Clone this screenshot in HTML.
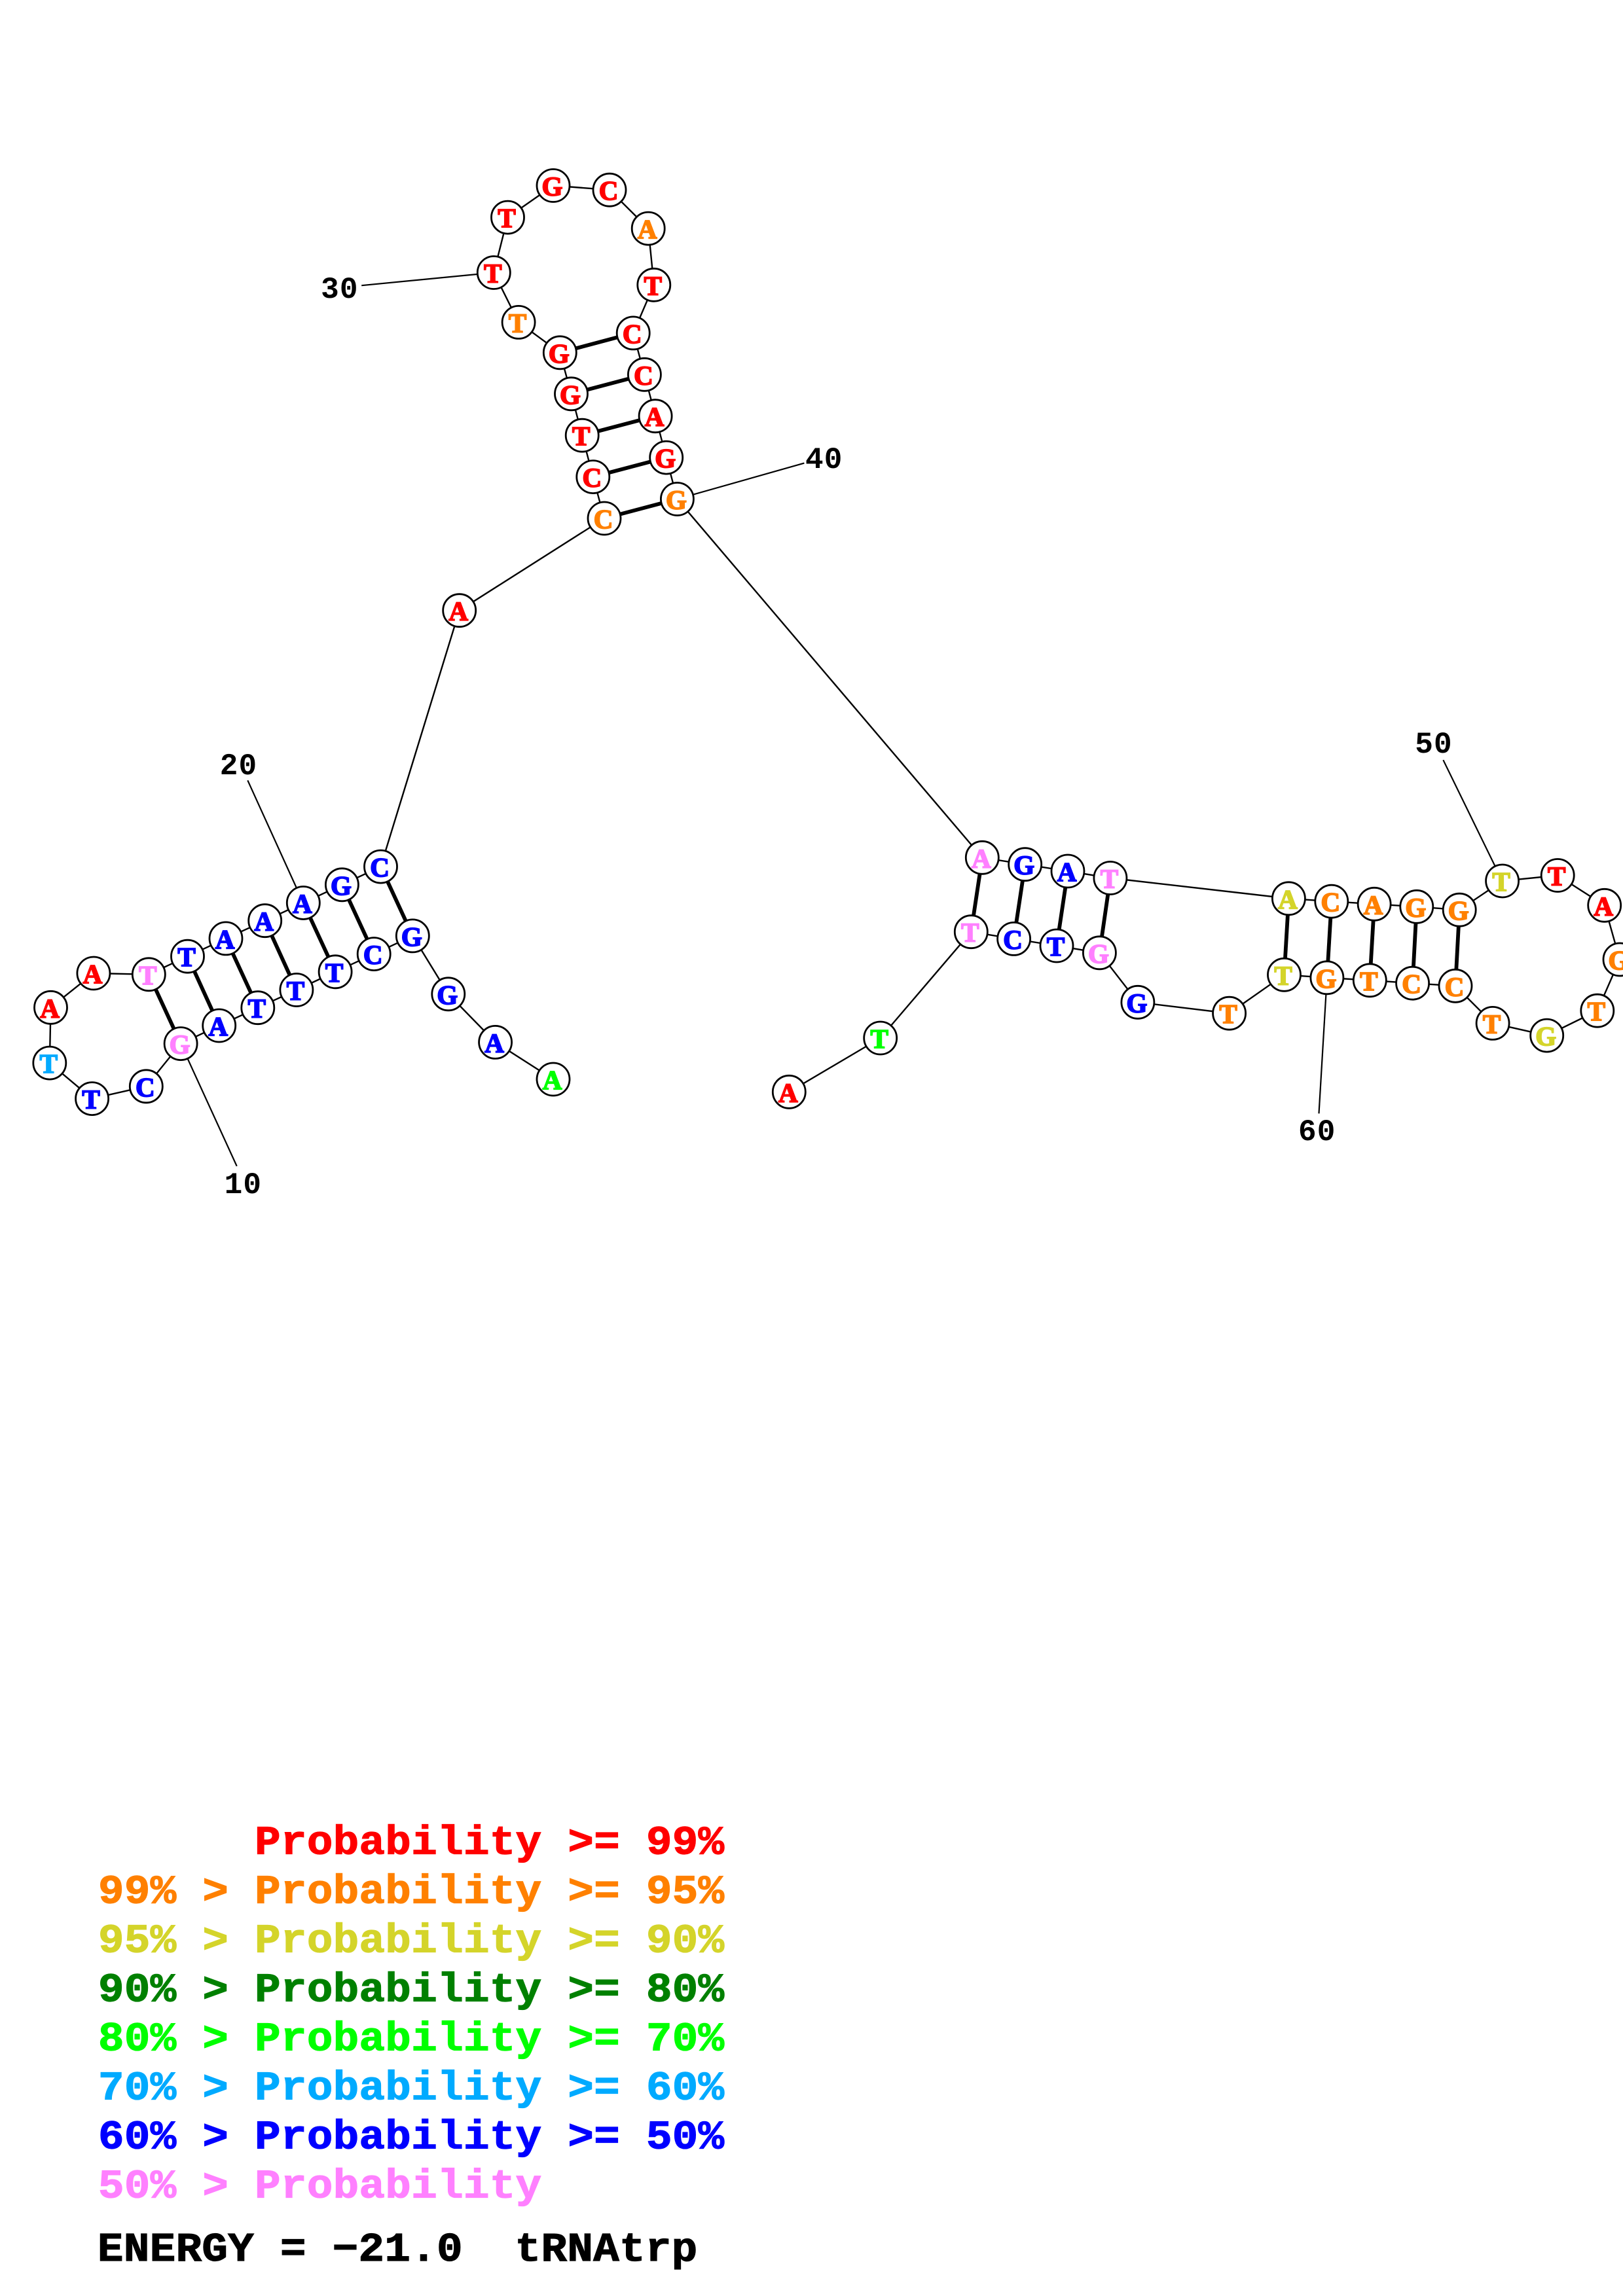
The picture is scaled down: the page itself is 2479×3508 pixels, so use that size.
<!DOCTYPE html>
<html><head><meta charset="utf-8"><title>tRNAtrp</title>
<style>
html,body{margin:0;padding:0;background:#fff;width:2479px;height:3508px;overflow:hidden}
svg{display:block}
.bb{fill:none;stroke:#000;stroke-width:2.4}
.ld{stroke:#000;stroke-width:2.2}
.bp{stroke:#000;stroke-width:5.8}
circle{fill:#fff;stroke:#000;stroke-width:2.8}
.n text{font:bold 41px "Liberation Serif",serif;text-anchor:middle;stroke-width:1.8px}
.R{fill:#f00;stroke:#f00}.O{fill:#ff8000;stroke:#ff8000}.Y{fill:#d4d42a;stroke:#d4d42a}.B{fill:#00f;stroke:#00f}.P{fill:#ff80ff;stroke:#ff80ff}.L{fill:#0f0;stroke:#0f0}.S{fill:#00aaff;stroke:#00aaff}
.lab{font:bold 46px "Liberation Mono",monospace;letter-spacing:1.2px;text-anchor:middle;fill:#000}
.leg text{font:bold 62px "Liberation Mono",monospace;letter-spacing:.4px;white-space:pre;stroke-width:1.2px}
</style></head><body>
<svg width="2479" height="3508" viewBox="0 0 2479 3508" xmlns="http://www.w3.org/2000/svg">
<rect width="2479" height="3508" fill="#fff"/>
<polyline class="bb" points="845,1649 756.6,1592.4 684.8,1518.8 630.3,1429.9 571.2,1457.6 512.1,1484.8 452.9,1512.5 393.8,1539.7 334.7,1567 276.1,1594.6 223.3,1659.8 140.6,1678.6 75.8,1624.1 77.5,1539.3 142.9,1487 227.3,1488.8 286.5,1461.2 345,1433.9 404.7,1406.7 463.3,1379.5 522.4,1351.8 581.5,1324.1 701.7,932.7 923,792 905.8,728.6 889.2,665.2 872.5,601.8 855.3,538.8 792.1,492.4 754.3,416.5 775.5,332.1 845,283.5 931,290.2 990.2,349.1 998.8,435.3 967.2,508.9 984.4,572.3 1001.1,635.7 1017.7,699.1 1034.4,762.5 1500.3,1310.3 1565.7,1320.7 1631,1331 1695.9,1341.5 1968.4,1372.8 2033.8,1377.2 2099.1,1381.3 2163.8,1385.3 2229.2,1390.2 2294.6,1346 2379.2,1337.5 2450.7,1383.3 2474,1466 2439.8,1544.2 2362.7,1582.1 2280.1,1563.4 2223,1506.3 2157.6,1502.2 2092.3,1497.8 2026.9,1493.8 1961.5,1489.3 1877.6,1548.2 1737.9,1531.3 1679.4,1455.8 1614,1445 1548.6,1434.4 1483.3,1423.7 1344.7,1586 1205.3,1668.3"/>
<g class="ld">
<line x1="361.7" y1="1781.7" x2="276.1" y2="1594.6"/>
<line x1="378.3" y1="1192.3" x2="463.3" y2="1379.5"/>
<line x1="552.2" y1="436.2" x2="754.3" y2="416.5"/>
<line x1="1228.4" y1="707.6" x2="1034.4" y2="762.5"/>
<line x1="2204.4" y1="1161.2" x2="2294.6" y2="1346"/>
<line x1="2014.5" y1="1701.3" x2="2026.9" y2="1493.8"/>
</g>
<g class="bp">
<line x1="630.3" y1="1429.9" x2="581.5" y2="1324.1"/>
<line x1="571.2" y1="1457.6" x2="522.4" y2="1351.8"/>
<line x1="512.1" y1="1484.8" x2="463.3" y2="1379.5"/>
<line x1="452.9" y1="1512.5" x2="404.7" y2="1406.7"/>
<line x1="393.8" y1="1539.7" x2="345" y2="1433.9"/>
<line x1="334.7" y1="1567" x2="286.5" y2="1461.2"/>
<line x1="276.1" y1="1594.6" x2="227.3" y2="1488.8"/>
<line x1="923" y1="792" x2="1034.4" y2="762.5"/>
<line x1="905.8" y1="728.6" x2="1017.7" y2="699.1"/>
<line x1="889.2" y1="665.2" x2="1001.1" y2="635.7"/>
<line x1="872.5" y1="601.8" x2="984.4" y2="572.3"/>
<line x1="855.3" y1="538.8" x2="967.2" y2="508.9"/>
<line x1="1500.3" y1="1310.3" x2="1483.3" y2="1423.7"/>
<line x1="1565.7" y1="1320.7" x2="1548.6" y2="1434.4"/>
<line x1="1631" y1="1331" x2="1614" y2="1445"/>
<line x1="1695.9" y1="1341.5" x2="1679.4" y2="1455.8"/>
<line x1="1968.4" y1="1372.8" x2="1961.5" y2="1489.3"/>
<line x1="2033.8" y1="1377.2" x2="2026.9" y2="1493.8"/>
<line x1="2099.1" y1="1381.3" x2="2092.3" y2="1497.8"/>
<line x1="2163.8" y1="1385.3" x2="2157.6" y2="1502.2"/>
<line x1="2229.2" y1="1390.2" x2="2223" y2="1506.3"/>
</g>
<g class="n">
<circle cx="845" cy="1649" r="25"/><text class="L" x="843.5" y="1664">A</text>
<circle cx="756.6" cy="1592.4" r="25"/><text class="B" x="755.1" y="1607.4">A</text>
<circle cx="684.8" cy="1518.8" r="25"/><text class="B" x="683.3" y="1533.8">G</text>
<circle cx="630.3" cy="1429.9" r="25"/><text class="B" x="628.8" y="1444.9">G</text>
<circle cx="571.2" cy="1457.6" r="25"/><text class="B" x="569.7" y="1472.6">C</text>
<circle cx="512.1" cy="1484.8" r="25"/><text class="B" x="510.6" y="1499.8">T</text>
<circle cx="452.9" cy="1512.5" r="25"/><text class="B" x="451.4" y="1527.5">T</text>
<circle cx="393.8" cy="1539.7" r="25"/><text class="B" x="392.3" y="1554.7">T</text>
<circle cx="334.7" cy="1567" r="25"/><text class="B" x="333.2" y="1582">A</text>
<circle cx="276.1" cy="1594.6" r="25"/><text class="P" x="274.6" y="1609.6">G</text>
<circle cx="223.3" cy="1659.8" r="25"/><text class="B" x="221.8" y="1674.8">C</text>
<circle cx="140.6" cy="1678.6" r="25"/><text class="B" x="139.1" y="1693.6">T</text>
<circle cx="75.8" cy="1624.1" r="25"/><text class="S" x="74.3" y="1639.1">T</text>
<circle cx="77.5" cy="1539.3" r="25"/><text class="R" x="76" y="1554.3">A</text>
<circle cx="142.9" cy="1487" r="25"/><text class="R" x="141.4" y="1502">A</text>
<circle cx="227.3" cy="1488.8" r="25"/><text class="P" x="225.8" y="1503.8">T</text>
<circle cx="286.5" cy="1461.2" r="25"/><text class="B" x="285" y="1476.2">T</text>
<circle cx="345" cy="1433.9" r="25"/><text class="B" x="343.5" y="1448.9">A</text>
<circle cx="404.7" cy="1406.7" r="25"/><text class="B" x="403.2" y="1421.7">A</text>
<circle cx="463.3" cy="1379.5" r="25"/><text class="B" x="461.8" y="1394.5">A</text>
<circle cx="522.4" cy="1351.8" r="25"/><text class="B" x="520.9" y="1366.8">G</text>
<circle cx="581.5" cy="1324.1" r="25"/><text class="B" x="580" y="1339.1">C</text>
<circle cx="701.7" cy="932.7" r="25"/><text class="R" x="700.2" y="947.7">A</text>
<circle cx="923" cy="792" r="25"/><text class="O" x="921.5" y="807">C</text>
<circle cx="905.8" cy="728.6" r="25"/><text class="R" x="904.3" y="743.6">C</text>
<circle cx="889.2" cy="665.2" r="25"/><text class="R" x="887.7" y="680.2">T</text>
<circle cx="872.5" cy="601.8" r="25"/><text class="R" x="871" y="616.8">G</text>
<circle cx="855.3" cy="538.8" r="25"/><text class="R" x="853.8" y="553.8">G</text>
<circle cx="792.1" cy="492.4" r="25"/><text class="O" x="790.6" y="507.4">T</text>
<circle cx="754.3" cy="416.5" r="25"/><text class="R" x="752.8" y="431.5">T</text>
<circle cx="775.5" cy="332.1" r="25"/><text class="R" x="774" y="347.1">T</text>
<circle cx="845" cy="283.5" r="25"/><text class="R" x="843.5" y="298.5">G</text>
<circle cx="931" cy="290.2" r="25"/><text class="R" x="929.5" y="305.2">C</text>
<circle cx="990.2" cy="349.1" r="25"/><text class="O" x="988.7" y="364.1">A</text>
<circle cx="998.8" cy="435.3" r="25"/><text class="R" x="997.3" y="450.3">T</text>
<circle cx="967.2" cy="508.9" r="25"/><text class="R" x="965.7" y="523.9">C</text>
<circle cx="984.4" cy="572.3" r="25"/><text class="R" x="982.9" y="587.3">C</text>
<circle cx="1001.1" cy="635.7" r="25"/><text class="R" x="999.6" y="650.7">A</text>
<circle cx="1017.7" cy="699.1" r="25"/><text class="R" x="1016.2" y="714.1">G</text>
<circle cx="1034.4" cy="762.5" r="25"/><text class="O" x="1032.9" y="777.5">G</text>
<circle cx="1500.3" cy="1310.3" r="25"/><text class="P" x="1498.8" y="1325.3">A</text>
<circle cx="1565.7" cy="1320.7" r="25"/><text class="B" x="1564.2" y="1335.7">G</text>
<circle cx="1631" cy="1331" r="25"/><text class="B" x="1629.5" y="1346">A</text>
<circle cx="1695.9" cy="1341.5" r="25"/><text class="P" x="1694.4" y="1356.5">T</text>
<circle cx="1968.4" cy="1372.8" r="25"/><text class="Y" x="1966.9" y="1387.8">A</text>
<circle cx="2033.8" cy="1377.2" r="25"/><text class="O" x="2032.3" y="1392.2">C</text>
<circle cx="2099.1" cy="1381.3" r="25"/><text class="O" x="2097.6" y="1396.3">A</text>
<circle cx="2163.8" cy="1385.3" r="25"/><text class="O" x="2162.3" y="1400.3">G</text>
<circle cx="2229.2" cy="1390.2" r="25"/><text class="O" x="2227.7" y="1405.2">G</text>
<circle cx="2294.6" cy="1346" r="25"/><text class="Y" x="2293.1" y="1361">T</text>
<circle cx="2379.2" cy="1337.5" r="25"/><text class="R" x="2377.7" y="1352.5">T</text>
<circle cx="2450.7" cy="1383.3" r="25"/><text class="R" x="2449.2" y="1398.3">A</text>
<circle cx="2474" cy="1466" r="25"/><text class="O" x="2472.5" y="1481">G</text>
<circle cx="2439.8" cy="1544.2" r="25"/><text class="O" x="2438.3" y="1559.2">T</text>
<circle cx="2362.7" cy="1582.1" r="25"/><text class="Y" x="2361.2" y="1597.1">G</text>
<circle cx="2280.1" cy="1563.4" r="25"/><text class="O" x="2278.6" y="1578.4">T</text>
<circle cx="2223" cy="1506.3" r="25"/><text class="O" x="2221.5" y="1521.3">C</text>
<circle cx="2157.6" cy="1502.2" r="25"/><text class="O" x="2156.1" y="1517.2">C</text>
<circle cx="2092.3" cy="1497.8" r="25"/><text class="O" x="2090.8" y="1512.8">T</text>
<circle cx="2026.9" cy="1493.8" r="25"/><text class="O" x="2025.4" y="1508.8">G</text>
<circle cx="1961.5" cy="1489.3" r="25"/><text class="Y" x="1960" y="1504.3">T</text>
<circle cx="1877.6" cy="1548.2" r="25"/><text class="O" x="1876.1" y="1563.2">T</text>
<circle cx="1737.9" cy="1531.3" r="25"/><text class="B" x="1736.4" y="1546.3">G</text>
<circle cx="1679.4" cy="1455.8" r="25"/><text class="P" x="1677.9" y="1470.8">G</text>
<circle cx="1614" cy="1445" r="25"/><text class="B" x="1612.5" y="1460">T</text>
<circle cx="1548.6" cy="1434.4" r="25"/><text class="B" x="1547.1" y="1449.4">C</text>
<circle cx="1483.3" cy="1423.7" r="25"/><text class="P" x="1481.8" y="1438.7">T</text>
<circle cx="1344.7" cy="1586" r="25"/><text class="L" x="1343.2" y="1601">T</text>
<circle cx="1205.3" cy="1668.3" r="25"/><text class="R" x="1203.8" y="1683.3">A</text>
</g>
<text class="lab" x="371.4" y="1823">10</text>
<text class="lab" x="364.5" y="1183">20</text>
<text class="lab" x="518.9" y="455">30</text>
<text class="lab" x="1258.8" y="715">40</text>
<text class="lab" x="2190" y="1150">50</text>
<text class="lab" x="2011.8" y="1742">60</text>
<g class="leg">
<text transform="translate(150 2832.5) scale(1.06 1)" fill="#f00" stroke="#f00" xml:space="preserve">      Probability &gt;= 99%</text>
<text transform="translate(150 2907.5) scale(1.06 1)" fill="#ff8000" stroke="#ff8000" xml:space="preserve">99% &gt; Probability &gt;= 95%</text>
<text transform="translate(150 2982.5) scale(1.06 1)" fill="#d4d42a" stroke="#d4d42a" xml:space="preserve">95% &gt; Probability &gt;= 90%</text>
<text transform="translate(150 3057.5) scale(1.06 1)" fill="#008000" stroke="#008000" xml:space="preserve">90% &gt; Probability &gt;= 80%</text>
<text transform="translate(150 3132.5) scale(1.06 1)" fill="#0f0" stroke="#0f0" xml:space="preserve">80% &gt; Probability &gt;= 70%</text>
<text transform="translate(150 3207.5) scale(1.06 1)" fill="#00aaff" stroke="#00aaff" xml:space="preserve">70% &gt; Probability &gt;= 60%</text>
<text transform="translate(150 3282.5) scale(1.06 1)" fill="#00f" stroke="#00f" xml:space="preserve">60% &gt; Probability &gt;= 50%</text>
<text transform="translate(150 3357.5) scale(1.06 1)" fill="#ff80ff" stroke="#ff80ff" xml:space="preserve">50% &gt; Probability</text>
<text transform="translate(149 3454) scale(1.06 1)" fill="#000" stroke="#000" xml:space="preserve">ENERGY = −21.0  tRNAtrp</text>
</g>
</svg>
</body></html>
